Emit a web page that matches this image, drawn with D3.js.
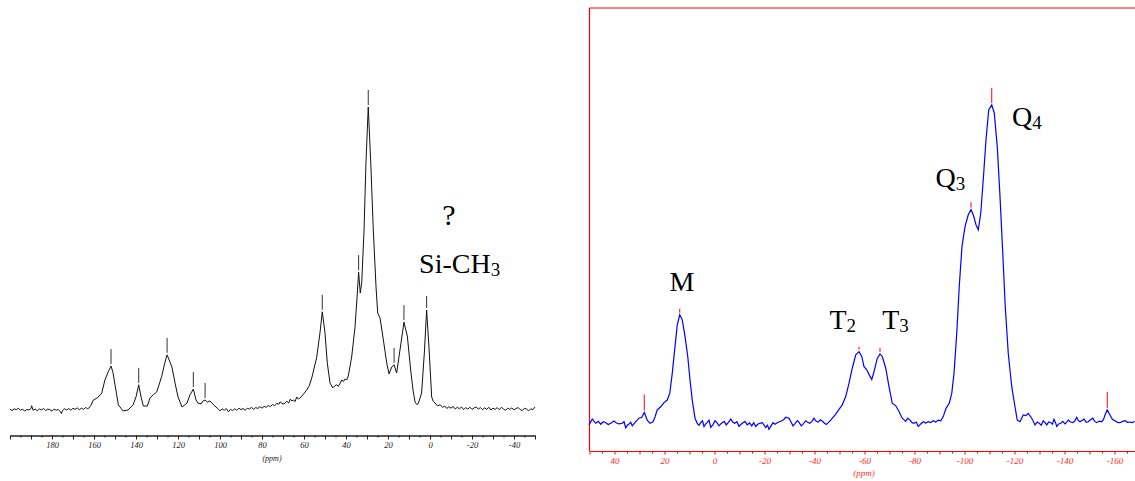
<!DOCTYPE html>
<html>
<head>
<meta charset="utf-8">
<script src="https://cdn.jsdelivr.net/npm/d3@7"></script>
<style>
  body { margin: 0; background: #fff; }
  svg { display: block; }
  .lbl { font-family: "Liberation Serif", "Times New Roman", serif; fill: #000; }
</style>
</head>
<body>
<div id="graf"></div>
<script>
// 13C spectrum (left): [ppm, relative intensity]
const carbonSpectrum = [
  [200, 0.3], [199, -0.2], [198, 0.4], [197, 0.1], [196, 0.6], [195, -0.1], [194, 0.3], [193, -0.4],
  [192, 0.2], [191, 0.0], [190, 0.5], [189.7, 1.4], [189, -0.1], [188, 0.3], [187, -0.3], [186, 0.4],
  [185, 0.0], [184, 0.5], [183, -0.2], [182, 0.3], [181, 0.1], [180, -0.4], [179, 0.3], [178, -0.1],
  [177, 0.2], [176, -0.6], [175.5, -1.2], [175, -0.2], [174, 0.4], [173, 0.0], [172, 0.5], [171, -0.1],
  [170, 0.6], [169, 0.2], [168, 0.7], [167, 0.1], [166, 0.6], [165, 0.2], [164, 0.8], [163, 0.4],
  [162.5, 0.6], [161.5, 1.5],
  [160.3, 3.3], [158.4, 4.0], [156.3, 5.6], [154.8, 9.9], [153.2, 12.6], [151.9, 14.5], [151, 12.5],
  [150, 8.3], [148.4, 1.7], [146.2, -0.3], [143.8, 0], [141.4, 1.7], [140, 4.3], [138.7, 8.3],
  [137.6, 4.3], [136.5, 1.3], [134.6, 1.3], [133.3, 4.0], [131.8, 5.0], [130.1, 6.0], [127.8, 11.0],
  [126.2, 15.8], [125.2, 18.2], [123.8, 15.8], [122.9, 14.2], [121.4, 8.9], [120, 4.3], [118.1, 1.0],
  [116.7, 1.7], [115.7, 2.3], [114.3, 5.0], [112.7, 6.9], [111.4, 3.3], [110.5, 2.3], [109, 2.0],
  [108.1, 3.0], [107.1, 3.3], [106, 2.6], [104.8, 3.0], [103.5, 2.0], [102.4, 1.3], [101, 0.4],
  [100, -0.3], [99, 0.4], [98, -0.1], [97, 0.5], [96, -0.6], [95, 0.2], [94, -0.2], [93, 0.4],
  [92, -0.1], [91, 0.6], [90, 0.1], [89, 0.5], [88, -0.1], [87, 0.6], [86, 0.3], [85, 0.9],
  [84, 0.2], [83, 0.8], [82, 0.5], [81, 1.1], [80, 0.6], [79, 1.2], [78, 0.9], [77, 1.5],
  [76, 1.1], [75, 1.8], [74, 1.4], [73, 2.2], [72, 1.9], [71.4, 2.7], [70.5, 2.2], [69.5, 2.0],
  [68.2, 2.9], [67.3, 2.3], [66.5, 3.6], [65.8, 3.0], [65.1, 3.3], [64.2, 2.8], [63.5, 4.3],
  [62.7, 3.6], [61.9, 4.0], [61, 4.6], [60.2, 5.3], [58.7, 6.6], [57.5, 8.0], [56.3, 10.6], [54, 17.2],
  [52.4, 25.4], [51.3, 32.4], [50, 25.4], [48.9, 15.5], [47.6, 8.9], [46.3, 7.3], [45.3, 8.0], [44.4, 8.3],
  [43.6, 7.8], [43, 8.6], [42, 9.9], [41.2, 9.4], [40.5, 10.2], [39.6, 10.0], [38.9, 11.2], [37.3, 17.5],
  [35.7, 27.4], [34.6, 38.6], [34, 45.5], [33.2, 38.6], [32.5, 42.2], [31.4, 59.4], [30.5, 81.5],
  [29.4, 100], [28.2, 81.5], [27, 59.4], [25.7, 40.6], [24.9, 32.0], [23.8, 30.4], [22.2, 23.1],
  [20.6, 15.5], [19.5, 11.9], [18.2, 14.2], [17.1, 14.9], [15.9, 12.2], [14.3, 19.8], [12.4, 29.0],
  [10.8, 24.4], [9.2, 13.2], [8.1, 6.6], [7.1, 2.6], [6.3, 1.8], [5.6, 2.1], [4, 5.6], [2.7, 18.8],
  [1.6, 33.0], [0.5, 20.8], [-0.8, 4.3], [-1.6, 2.8], [-2.4, 2.3], [-3.5, 1.4], [-4.8, 1.7],
  [-6, 0.9], [-7, 1.3], [-8, 0.5], [-9, 1.1], [-10, 0.6], [-11, 1.2], [-12, 0.3], [-13, 0.9],
  [-14, 0.4], [-15, 1.0], [-16, 0.1], [-17, 0.8], [-18, 0.3], [-19, 0.9], [-20, 0.2], [-21, 0.7],
  [-22, 1.0], [-23, 0.3], [-24, 0.8], [-25, 0.1], [-26, 0.7], [-27, 0.2], [-28, 0.9], [-29, 0.0],
  [-30, 0.6], [-31, 0.2], [-32, 0.8], [-33, 0.1], [-34, 0.9], [-35, 0.3], [-36, -0.1], [-37, 0.6],
  [-38, 0.2], [-39, 0.7], [-40, 0.0], [-41, 0.5], [-42, 0.8], [-43, 0.1], [-44, -0.2], [-45, 0.6],
  [-46, 0.3], [-47, -0.3], [-48, 0.4], [-49, 0.1], [-50, 1.0]
]
const carbonPeaks = [151.9, 138.7, 125.2, 112.7, 107.1, 51.3, 34, 29.4, 17.1, 12.4, 1.6]

// 29Si spectrum (right)
const siliconSpectrum = [
  [50.2, -0.5], [48.9, 1.3], [47.5, 0], [46.5, 0.6], [45.5, -0.3], [44.5, 0.5], [43.5, 0.2],
  [42.5, -0.4], [41.5, 0], [40.2, 0.7], [39.2, 0.1], [38.2, -0.2], [36.9, 0], [36.2, 0.5],
  [35.5, -1.4], [34.8, -0.6], [34.2, -0.2], [33.5, 0.3], [32.9, -0.8], [31.5, 0.5], [30.2, 1.6],
  [29.1, 1.9], [28.1, 3.4], [27.5, 2.2], [26.9, 1.0], [25.8, 0], [24.6, 0.5], [23.8, 2.0], [22.9, 4.2],
  [21.5, 5.2], [20.2, 6.5], [18.9, 7.3], [17.9, 9.4], [16.9, 15.7], [15.8, 24.1], [14.9, 30.9],
  [13.9, 34.1], [12.9, 32.5], [11.8, 27.3], [10.7, 21.0], [9.8, 13.6], [8.9, 7.3], [7.8, 1.6],
  [6.9, 0], [6.2, -0.6], [5.5, 0.2], [4.8, 0.8], [4.2, -1.0], [3.5, -0.2], [2.9, 0.3], [2.2, 1.0],
  [1.5, -1.3], [0.6, -0.4], [-0.2, 0.8], [-1.0, 0.2], [-1.8, -0.8], [-2.5, -0.2], [-3.1, 0.2],
  [-3.9, 0.6], [-4.7, -0.5], [-5.6, 0.3], [-6.5, 1.3], [-7.3, 0.4], [-8.1, 0], [-9.0, 0.5],
  [-9.8, -1.0], [-10.6, -0.3], [-11.4, 0.2], [-12.2, 0.6], [-13.1, -0.5], [-14.0, 0.1], [-14.9, -0.8],
  [-15.7, 0.2], [-16.5, -1.0], [-17.3, -0.3], [-18.1, 0], [-19.1, 0.2], [-20.5, -1.3], [-21.2, -0.6],
  [-21.8, -1.9], [-22.6, -0.8], [-23.4, 0.2], [-24.2, -0.3], [-25.1, 0.2], [-26.0, 0.5], [-26.9, 0.8],
  [-27.7, 1.2], [-28.5, 1.9], [-29.8, 1.6], [-30.6, 0.4], [-31.4, -0.8], [-32.2, -0.1], [-33.1, 0.8],
  [-33.9, 0.2], [-34.7, -0.8], [-35.6, -0.1], [-36.5, 0.8], [-37.3, 0.3], [-38.1, 0], [-39.0, 0.6],
  [-39.8, 1.6], [-40.6, 0.7], [-41.5, 0.4], [-42.3, 1.1], [-43.1, 0.7], [-43.9, 0.1], [-44.7, -0.4],
  [-45.6, 0.3], [-46.5, 1.0], [-47.3, 1.8], [-48.2, 2.6], [-49.8, 4.4], [-51.1, 5.8], [-52.5, 8.4],
  [-53.8, 12.6], [-55.1, 17.3], [-56.5, 21.5], [-57.8, 22.5], [-58.9, 21.0], [-59.8, 17.8],
  [-60.9, 16.8], [-62.1, 14.9], [-62.9, 13.8], [-63.8, 16.2], [-65.1, 20.4], [-66.2, 21.8],
  [-67.1, 21.0], [-68.5, 17.3], [-69.8, 11.5], [-71.1, 6.3], [-72.5, 5.5], [-73.8, 3.7], [-75.1, 1.6],
  [-76.5, 0.6], [-77.3, 1.6], [-78.2, 1.0], [-79.0, 0.2], [-79.8, 0], [-80.7, 0.4], [-81.5, -1.0],
  [-82.5, -0.2], [-83.5, 0.5], [-84.5, 0.1], [-85.5, 0.5], [-86.5, 0.2], [-87.5, 0.8], [-88.5, 0.4],
  [-89.5, 1.0], [-90.5, 0.8], [-91.5, 2.1], [-92.6, 4.7], [-93.9, 6.3],
  [-94.9, 9.4], [-95.8, 15.7], [-96.9, 28.3], [-97.9, 43], [-99, 55.6], [-100.2, 61.8], [-101.5, 65.5],
  [-102.6, 67.1], [-103.5, 65.5], [-104.6, 62.4], [-105.5, 60.8], [-106.5, 66], [-107.5, 76.5],
  [-108.6, 89.1], [-109.7, 98.5], [-110.9, 100], [-111.9, 97.5], [-113.1, 87], [-114.2, 71.3],
  [-115.3, 53.5], [-116.3, 36.7], [-117.5, 22], [-118.9, 11.5], [-120.2, 5.2], [-121.1, 1.0],
  [-122.2, 0.5], [-123.5, 2.6], [-124.5, 2.4], [-125.5, 3.1], [-126.9, 1.6], [-128.2, -0.5],
  [-129.1, 0.4], [-129.9, 0], [-130.7, -0.6], [-131.5, 0.8], [-132.2, 0.2], [-132.9, -0.5],
  [-133.7, 0.4], [-134.5, 0.2], [-135.2, -0.3], [-135.8, 1.3], [-136.4, 0.2], [-136.9, -1.0],
  [-137.7, -0.2], [-138.5, 0], [-139.3, 0.6], [-140.2, -0.2], [-140.8, 0.3], [-141.5, 1.0],
  [-142.4, 0.4], [-143.3, 0.2], [-144.1, 0.7], [-144.9, 1.9], [-145.5, 0.9], [-146.2, 0.5],
  [-147.0, 0.9], [-147.8, 1.3], [-148.7, 0.3], [-149.5, 0.5], [-150.4, 1.1], [-151.3, 1.6],
  [-152.1, 0.6], [-152.9, 0.2], [-153.9, 0.7], [-154.9, 0.5], [-155.6, 1.2], [-156.2, 2.6],
  [-157.1, 4.2], [-158.2, 2.6], [-159.2, 1.2], [-160.2, 0.8], [-161.2, 0.3], [-162.2, 0.2],
  [-163.2, 0.6], [-164.2, 0.8], [-165.2, 0.3], [-166.2, 0.4], [-167.1, 0.2], [-168, 0.6]
]
const siliconPeaks = [28.1, 13.9, -57.8, -66.2, -102.6, -110.9, -157.1]

// labels: [text, subscript, ppm, intensity]
const carbonLabels = [["?", "", -9, 61], ["Si-CH", "3", 5.2, 45.2]]
const siliconLabels = [["M", "", 13, 41.6], ["T", "2", -46, 29.7], ["T", "3", -67.1, 29.7],
  ["Q", "3", -88.4, 74.3], ["Q", "4", -119, 93.5]]

// marker lengths (px) for the picked peaks
const carbonMarkLen = [15, 15, 15, 15, 15, 15, 15, 15, 15, 15, 12]
const siliconMarkLen = [16, 4, 3, 4, 5.5, 15, 16]

const svg = d3.select("#graf").append("svg")
  .attr("width", 1135)
  .attr("height", 481)

const xC = d3.scaleLinear().domain([200, -50]).range([10, 535])
const yC = d3.scaleLinear().domain([0, 100]).range([410, 107])
const xSi = d3.scaleLinear().domain([50, -168]).range([589.5, 1134.5])
const ySi = d3.scaleLinear().domain([0, 100]).range([423.3, 105])

const fmt = (d) => (d % 20 === 0 && d !== 200 ? String(d) : "")

// ---- left: 13C ----
const ejeC = svg.append("g").attr("transform", "translate(0,435.5)")
ejeC.call(d3.axisBottom(xC).tickValues(d3.range(195, -50, -10)).tickSize(2).tickSizeOuter(0).tickFormat(""))
ejeC.append("g").call(d3.axisBottom(xC).tickValues(d3.range(200, -51, -10)).tickSize(4).tickSizeOuter(0).tickFormat(fmt))
ejeC.selectAll("path.domain").attr("stroke", "#222")
ejeC.selectAll("line").attr("stroke", "#222")
ejeC.selectAll("text")
  .attr("y", 12.5).attr("dy", 0)
  .attr("font-family", "Liberation Serif").attr("font-style", "italic")
  .attr("font-size", 8.5).attr("fill", "#222")

svg.append("text")
  .attr("x", 272).attr("y", 460.5)
  .attr("text-anchor", "middle")
  .attr("font-family", "Liberation Serif").attr("font-style", "italic")
  .attr("font-size", 8).attr("fill", "#222")
  .text("(ppm)")

const lineaC = d3.line().x((d) => xC(d[0])).y((d) => yC(d[1]))
svg.append("path")
  .datum(carbonSpectrum)
  .attr("d", lineaC)
  .attr("fill", "none")
  .attr("stroke", "#111")
  .attr("stroke-width", 1)

const altura = (spec, p) => spec.find((d) => d[0] === p)[1]

svg.selectAll(".markC")
  .data(carbonPeaks)
  .enter()
  .append("line")
  .attr("x1", (d) => xC(d)).attr("x2", (d) => xC(d))
  .attr("y1", (d) => yC(altura(carbonSpectrum, d)) - 2)
  .attr("y2", (d, i) => yC(altura(carbonSpectrum, d)) - 2 - carbonMarkLen[i])
  .attr("stroke", "#333")
  .attr("stroke-width", 1)

// ---- right: 29Si ----
const marco = svg.append("g")
marco.append("line").attr("x1", 589.5).attr("x2", 1135).attr("y1", 8).attr("y2", 8)
  .attr("stroke", "#f00").attr("stroke-width", 1)
marco.append("line").attr("x1", 589.5).attr("x2", 589.5).attr("y1", 8).attr("y2", 451)
  .attr("stroke", "#f00").attr("stroke-width", 1.2)

const ejeSi = svg.append("g").attr("transform", "translate(0,451)")
ejeSi.call(d3.axisBottom(xSi).tickValues(d3.range(45, -168, -10)).tickSize(2.5).tickSizeOuter(0).tickFormat(""))
ejeSi.append("g").call(d3.axisBottom(xSi).tickValues(d3.range(50, -168, -10)).tickSize(3.5).tickSizeOuter(0).tickFormat(fmt))
ejeSi.selectAll("path.domain").attr("stroke", "#f00").attr("stroke-width", 1.2)
ejeSi.selectAll("line").attr("stroke", "#f00")
ejeSi.selectAll("text")
  .attr("y", 12.5).attr("dy", 0)
  .attr("font-family", "Liberation Serif").attr("font-style", "italic")
  .attr("font-size", 9).attr("fill", "#ff2a2a")

svg.append("text")
  .attr("x", 864).attr("y", 476)
  .attr("text-anchor", "middle")
  .attr("font-family", "Liberation Serif").attr("font-style", "italic")
  .attr("font-size", 9).attr("fill", "#ff2a2a")
  .text("(ppm)")

const lineaSi = d3.line().x((d) => xSi(d[0])).y((d) => ySi(d[1]))
svg.append("path")
  .datum(siliconSpectrum)
  .attr("d", lineaSi)
  .attr("fill", "none")
  .attr("stroke", "#0000ff")
  .attr("stroke-width", 1.2)

svg.selectAll(".markSi")
  .data(siliconPeaks)
  .enter()
  .append("line")
  .attr("x1", (d) => xSi(d)).attr("x2", (d) => xSi(d))
  .attr("y1", (d) => ySi(altura(siliconSpectrum, d)) - 2)
  .attr("y2", (d, i) => ySi(altura(siliconSpectrum, d)) - 2 - siliconMarkLen[i])
  .attr("stroke", "#f00")
  .attr("stroke-width", 1)

// ---- peak labels ----
const rotular = (datos, x, y) => {
  datos.forEach(([txt, sub, p, v]) => {
    const t = svg.append("text")
      .attr("class", "lbl")
      .attr("x", x(p)).attr("y", y(v))
      .attr("font-size", txt === "?" ? 30 : 28)
      .attr("text-anchor", sub === "" ? "middle" : "start")
    t.append("tspan").text(txt)
    if (sub) t.append("tspan").attr("font-size", 19).attr("dy", 3).text(sub)
  })
}
rotular(carbonLabels, xC, yC)
rotular(siliconLabels, xSi, ySi)
</script>
</body>
</html>
